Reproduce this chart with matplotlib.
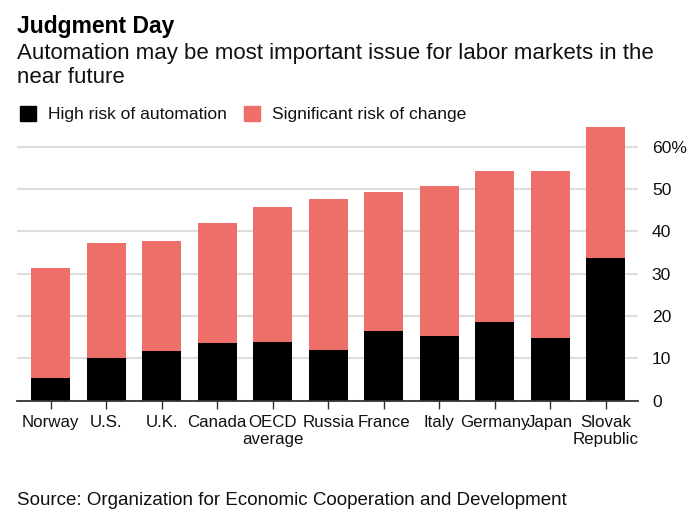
import matplotlib
matplotlib.use("Agg")
import matplotlib.pyplot as plt
from matplotlib.patches import Rectangle

plt.rcParams['font.family'] = ['Liberation Sans', 'DejaVu Sans']

countries = ["Norway", "U.S.", "U.K.", "Canada", "OECD\naverage", "Russia",
             "France", "Italy", "Germany", "Japan", "Slovak\nRepublic"]
high_risk = [5.4, 10.0, 11.7, 13.6, 13.9, 11.9, 16.4, 15.2, 18.5, 14.8, 33.6]
significant_change = [26.0, 27.2, 26.1, 28.4, 31.8, 35.7, 32.8, 35.6, 35.8, 39.5, 31.1]
y_ticks = [0, 10, 20, 30, 40, 50, 60]
y_labels = ["0", "10", "20", "30", "40", "50", "60%"]

BLACK = "#000000"
RED = "#ee6f6a"
W, H = 700, 530

fig = plt.figure(figsize=(W / 100, H / 100), dpi=100)

def fx(px):
    return px / W

def fy(py):
    return 1 - py / H

ax_left, ax_right = 17.3, 638
ax_bottom, ax_top = 400.7, 125.6
ax = fig.add_axes([fx(ax_left), fy(ax_bottom), (ax_right - ax_left) / W, (ax_bottom - ax_top) / H])

x = list(range(len(countries)))
ax.bar(x, high_risk, width=0.7, color=BLACK, zorder=3)
ax.bar(x, significant_change, width=0.7, bottom=high_risk, color=RED, zorder=3)

ax.set_xlim(-0.6, 10.58)
ax.set_ylim(0, 65)

ax.set_yticks(y_ticks)
ax.set_yticklabels(y_labels)
ax.yaxis.tick_right()
ax.tick_params(axis='y', length=0, pad=10, labelsize=12.6, labelcolor='#111111')
ax.grid(axis='y', color='#dddddd', linewidth=1.5, zorder=0)
ax.set_axisbelow(True)

ax.set_xticks(x)
ax.set_xticklabels(countries)
ax.tick_params(axis='x', length=6, width=1, color='#333333', pad=4,
               labelsize=12.2, labelcolor='#111111')
for lbl in ax.get_xticklabels():
    lbl.set_linespacing(1.2)

for side in ['left', 'right', 'top']:
    ax.spines[side].set_visible(False)
ax.spines['bottom'].set_color('#333333')
ax.spines['bottom'].set_linewidth(1.3)
ax.spines['bottom'].set_zorder(4)

# Titles
fig.text(fx(17), fy(33), "Judgment Day", fontsize=16.5, fontweight='bold',
         color='#000000', va='baseline', ha='left')
fig.text(fx(17), fy(59.3), "Automation may be most important issue for labor markets in the",
         fontsize=16, color='#111111', va='baseline', ha='left')
fig.text(fx(17), fy(83.3), "near future",
         fontsize=16, color='#111111', va='baseline', ha='left')

# Legend
fig.patches.append(Rectangle((fx(19.5), fy(120.7)), 16 / W, 15 / H,
                             transform=fig.transFigure, color=BLACK, figure=fig))
fig.text(fx(48.3), fy(119), "High risk of automation", fontsize=12.6,
         color='#111111', va='baseline', ha='left')
fig.patches.append(Rectangle((fx(243.5), fy(120.7)), 16 / W, 15 / H,
                             transform=fig.transFigure, color=RED, figure=fig))
fig.text(fx(272), fy(119), "Significant risk of change", fontsize=12.6,
         color='#111111', va='baseline', ha='left')

# Source
fig.text(fx(17), fy(505), "Source: Organization for Economic Cooperation and Development",
         fontsize=13.5, color='#111111', va='baseline', ha='left')

fig.savefig("out.png", dpi=100)
